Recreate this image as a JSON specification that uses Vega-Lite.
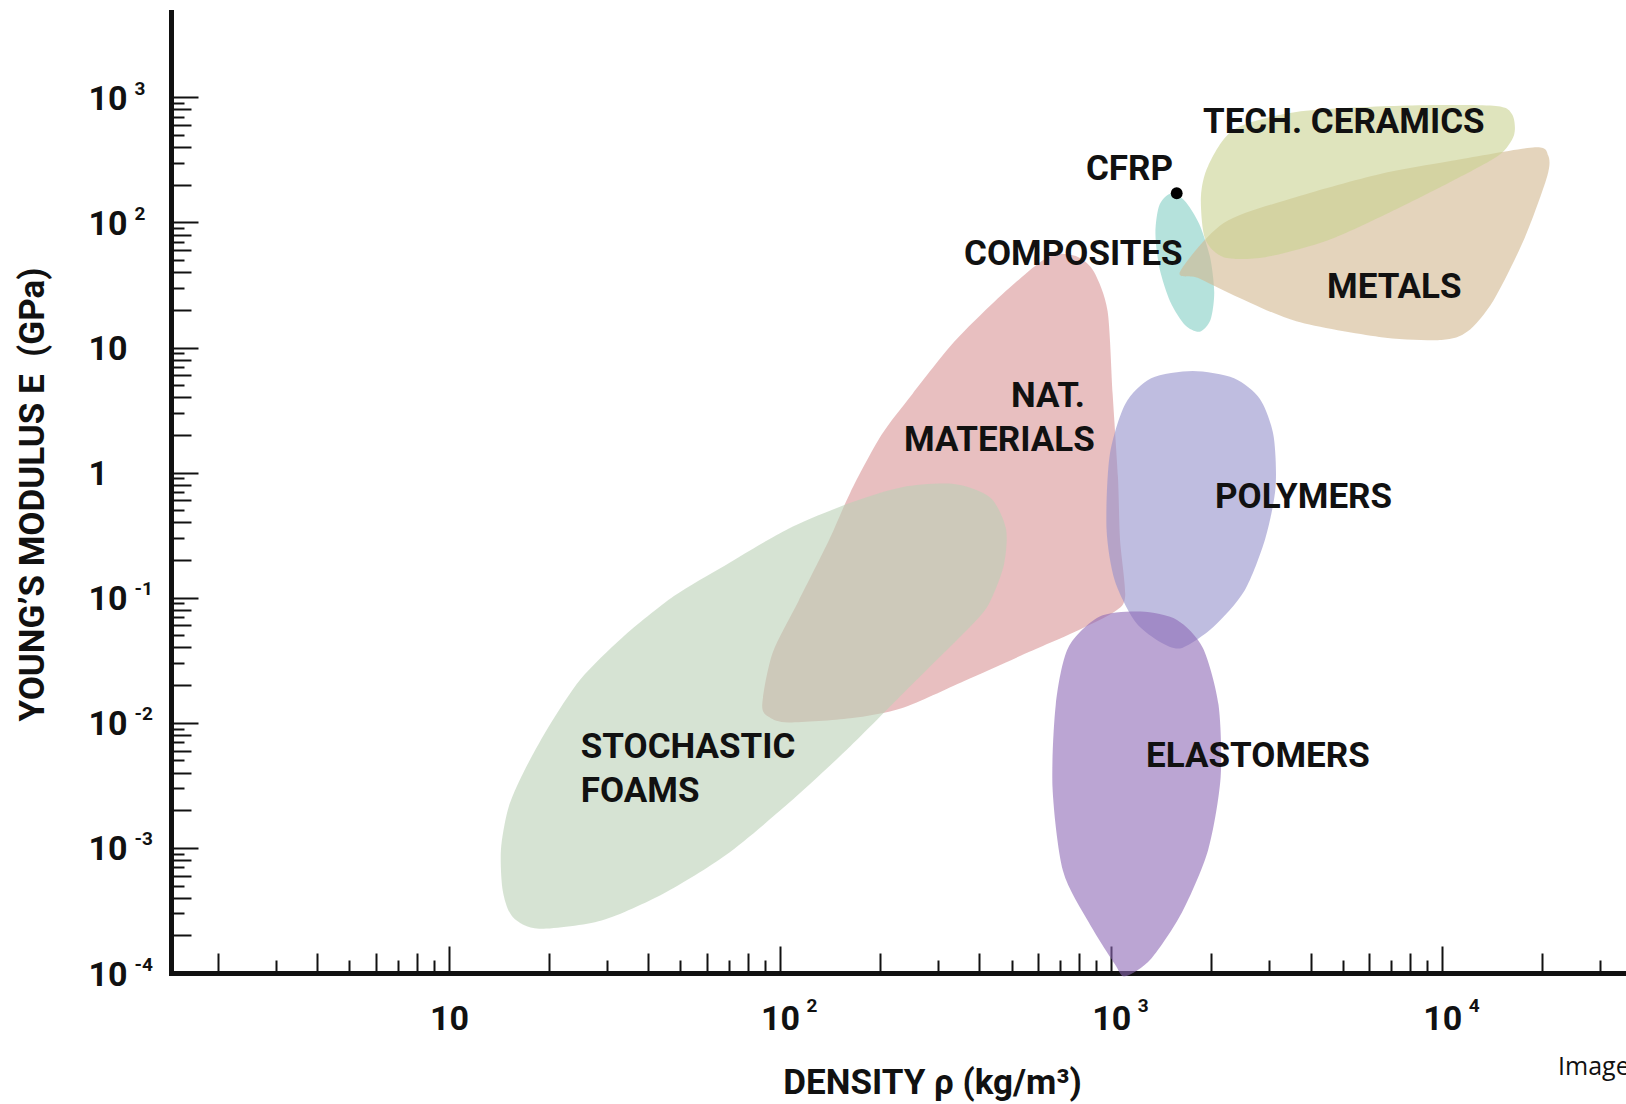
{
  "$schema": "https://vega.github.io/schema/vega-lite/v6.json",
  "width": 1455,
  "height": 961,
  "autosize": {"type": "none"},
  "padding": {"left": 171, "top": 12, "right": 0, "bottom": 131},
  "background": "white",
  "config": {
    "view": {"stroke": null},
    "axis": {
      "grid": false,
      "labelFont": "Roboto",
      "titleFont": "Roboto",
      "labelFontWeight": "bold",
      "titleFontWeight": "bold",
      "labelColor": "#111",
      "titleColor": "#111",
      "domainColor": "#111",
      "tickColor": "#111",
      "labelFlush": false,
      "labelOverlap": false,
      "labelBound": false,
      "zindex": 1
    }
  },
  "datasets": {
    "regions": [
      {"family": "Natural materials", "i": 1, "density": 689, "modulus": 55.9},
      {"family": "Natural materials", "i": 2, "density": 796, "modulus": 52.8},
      {"family": "Natural materials", "i": 3, "density": 887, "modulus": 40.4},
      {"family": "Natural materials", "i": 4, "density": 975, "modulus": 19.6},
      {"family": "Natural materials", "i": 5, "density": 1010, "modulus": 4.26},
      {"family": "Natural materials", "i": 6, "density": 1048, "modulus": 0.925},
      {"family": "Natural materials", "i": 7, "density": 1063, "modulus": 0.2945},
      {"family": "Natural materials", "i": 8, "density": 1102, "modulus": 0.1032},
      {"family": "Natural materials", "i": 9, "density": 1025, "modulus": 0.0775},
      {"family": "Natural materials", "i": 10, "density": 796, "modulus": 0.055},
      {"family": "Natural materials", "i": 11, "density": 555, "modulus": 0.0361},
      {"family": "Natural materials", "i": 12, "density": 360, "modulus": 0.0216},
      {"family": "Natural materials", "i": 13, "density": 234, "modulus": 0.01315},
      {"family": "Natural materials", "i": 14, "density": 163, "modulus": 0.01086},
      {"family": "Natural materials", "i": 15, "density": 106, "modulus": 0.01006},
      {"family": "Natural materials", "i": 16, "density": 92.9, "modulus": 0.01107},
      {"family": "Natural materials", "i": 17, "density": 88.3, "modulus": 0.01392},
      {"family": "Natural materials", "i": 18, "density": 94.9, "modulus": 0.0361},
      {"family": "Natural materials", "i": 19, "density": 113.6, "modulus": 0.0938},
      {"family": "Natural materials", "i": 20, "density": 141, "modulus": 0.2945},
      {"family": "Natural materials", "i": 21, "density": 163, "modulus": 0.695},
      {"family": "Natural materials", "i": 22, "density": 202, "modulus": 1.985},
      {"family": "Natural materials", "i": 23, "density": 251, "modulus": 4.26},
      {"family": "Natural materials", "i": 24, "density": 335, "modulus": 11.05},
      {"family": "Natural materials", "i": 25, "density": 447, "modulus": 23.7},
      {"family": "Natural materials", "i": 26, "density": 597, "modulus": 46.2},

      {"family": "Stochastic foams", "i": 1, "density": 233.7, "modulus": 0.765},
      {"family": "Stochastic foams", "i": 2, "density": 335, "modulus": 0.81},
      {"family": "Stochastic foams", "i": 3, "density": 431, "modulus": 0.632},
      {"family": "Stochastic foams", "i": 4, "density": 481, "modulus": 0.356},
      {"family": "Stochastic foams", "i": 5, "density": 474, "modulus": 0.183},
      {"family": "Stochastic foams", "i": 6, "density": 431, "modulus": 0.0938},
      {"family": "Stochastic foams", "i": 7, "density": 387, "modulus": 0.064},
      {"family": "Stochastic foams", "i": 8, "density": 251, "modulus": 0.0204},
      {"family": "Stochastic foams", "i": 9, "density": 163, "modulus": 0.00649},
      {"family": "Stochastic foams", "i": 10, "density": 106, "modulus": 0.00227},
      {"family": "Stochastic foams", "i": 11, "density": 68.6, "modulus": 0.000876},
      {"family": "Stochastic foams", "i": 12, "density": 44.5, "modulus": 0.000432},
      {"family": "Stochastic foams", "i": 13, "density": 28.9, "modulus": 0.000263},
      {"family": "Stochastic foams", "i": 14, "density": 18.7, "modulus": 0.000226},
      {"family": "Stochastic foams", "i": 15, "density": 15.6, "modulus": 0.000279},
      {"family": "Stochastic foams", "i": 16, "density": 14.55, "modulus": 0.000449},
      {"family": "Stochastic foams", "i": 17, "density": 14.35, "modulus": 0.000963},
      {"family": "Stochastic foams", "i": 18, "density": 15.1, "modulus": 0.00207},
      {"family": "Stochastic foams", "i": 19, "density": 16.8, "modulus": 0.00403},
      {"family": "Stochastic foams", "i": 20, "density": 20.1, "modulus": 0.0095},
      {"family": "Stochastic foams", "i": 21, "density": 25.0, "modulus": 0.0224},
      {"family": "Stochastic foams", "i": 22, "density": 33.4, "modulus": 0.0481},
      {"family": "Stochastic foams", "i": 23, "density": 47.8, "modulus": 0.103},
      {"family": "Stochastic foams", "i": 24, "density": 68.6, "modulus": 0.183},
      {"family": "Stochastic foams", "i": 25, "density": 106, "modulus": 0.356},
      {"family": "Stochastic foams", "i": 26, "density": 163, "modulus": 0.574},

      {"family": "Polymers", "i": 1, "density": 1761, "modulus": 6.48},
      {"family": "Polymers", "i": 2, "density": 2350, "modulus": 5.67},
      {"family": "Polymers", "i": 3, "density": 2813, "modulus": 3.87},
      {"family": "Polymers", "i": 4, "density": 3090, "modulus": 1.985},
      {"family": "Polymers", "i": 5, "density": 3136, "modulus": 0.765},
      {"family": "Polymers", "i": 6, "density": 2917, "modulus": 0.2945},
      {"family": "Polymers", "i": 7, "density": 2526, "modulus": 0.1135},
      {"family": "Polymers", "i": 8, "density": 2034, "modulus": 0.0582},
      {"family": "Polymers", "i": 9, "density": 1638, "modulus": 0.0397},
      {"family": "Polymers", "i": 10, "density": 1418, "modulus": 0.0437},
      {"family": "Polymers", "i": 11, "density": 1184, "modulus": 0.064},
      {"family": "Polymers", "i": 12, "density": 1025, "modulus": 0.1373},
      {"family": "Polymers", "i": 13, "density": 968, "modulus": 0.356},
      {"family": "Polymers", "i": 14, "density": 989, "modulus": 1.355},
      {"family": "Polymers", "i": 15, "density": 1102, "modulus": 3.52},
      {"family": "Polymers", "i": 16, "density": 1320, "modulus": 5.67},

      {"family": "Elastomers", "i": 1, "density": 1228, "modulus": 0.0775},
      {"family": "Elastomers", "i": 2, "density": 1580, "modulus": 0.0665},
      {"family": "Elastomers", "i": 3, "density": 1892, "modulus": 0.0397},
      {"family": "Elastomers", "i": 4, "density": 2109, "modulus": 0.01392},
      {"family": "Elastomers", "i": 5, "density": 2140, "modulus": 0.00366},
      {"family": "Elastomers", "i": 6, "density": 1962, "modulus": 0.000963},
      {"family": "Elastomers", "i": 7, "density": 1638, "modulus": 0.000307},
      {"family": "Elastomers", "i": 8, "density": 1320, "modulus": 0.00013},
      {"family": "Elastomers", "i": 9, "density": 1102, "modulus": 0.000094},
      {"family": "Elastomers", "i": 10, "density": 1025, "modulus": 0.000118},
      {"family": "Elastomers", "i": 11, "density": 856, "modulus": 0.000253},
      {"family": "Elastomers", "i": 12, "density": 715, "modulus": 0.000658},
      {"family": "Elastomers", "i": 13, "density": 665, "modulus": 0.003027},
      {"family": "Elastomers", "i": 14, "density": 680, "modulus": 0.01392},
      {"family": "Elastomers", "i": 15, "density": 741, "modulus": 0.0397},
      {"family": "Elastomers", "i": 16, "density": 920, "modulus": 0.0705},

      {"family": "Composites", "i": 1, "density": 1851, "modulus": 13.37},
      {"family": "Composites", "i": 2, "density": 1995, "modulus": 16.69},
      {"family": "Composites", "i": 3, "density": 2047, "modulus": 27.5},
      {"family": "Composites", "i": 4, "density": 1989, "modulus": 52.6},
      {"family": "Composites", "i": 5, "density": 1843, "modulus": 97.8},
      {"family": "Composites", "i": 6, "density": 1663, "modulus": 149.9},
      {"family": "Composites", "i": 7, "density": 1502, "modulus": 169.1},
      {"family": "Composites", "i": 8, "density": 1395, "modulus": 135.5},
      {"family": "Composites", "i": 9, "density": 1360, "modulus": 82.1},
      {"family": "Composites", "i": 10, "density": 1399, "modulus": 43.0},
      {"family": "Composites", "i": 11, "density": 1509, "modulus": 23.1},
      {"family": "Composites", "i": 12, "density": 1673, "modulus": 15.05},

      {"family": "Metals", "i": 1, "density": 1614, "modulus": 40.4},
      {"family": "Metals", "i": 2, "density": 2186, "modulus": 99.1},
      {"family": "Metals", "i": 3, "density": 3622, "modulus": 159.7},
      {"family": "Metals", "i": 4, "density": 6449, "modulus": 243},
      {"family": "Metals", "i": 5, "density": 10683, "modulus": 311},
      {"family": "Metals", "i": 6, "density": 19028, "modulus": 399},
      {"family": "Metals", "i": 7, "density": 20886, "modulus": 342},
      {"family": "Metals", "i": 8, "density": 20737, "modulus": 234},
      {"family": "Metals", "i": 9, "density": 17701, "modulus": 74.4},
      {"family": "Metals", "i": 10, "density": 14256, "modulus": 23.7},
      {"family": "Metals", "i": 11, "density": 11905, "modulus": 13.4},
      {"family": "Metals", "i": 12, "density": 9940, "modulus": 11.48},
      {"family": "Metals", "i": 13, "density": 6449, "modulus": 12.16},
      {"family": "Metals", "i": 14, "density": 3622, "modulus": 16.2},
      {"family": "Metals", "i": 15, "density": 2350, "modulus": 26.1},
      {"family": "Metals", "i": 16, "density": 1825, "modulus": 36.1},

      {"family": "Technical ceramics", "i": 1, "density": 1962, "modulus": 283},
      {"family": "Technical ceramics", "i": 2, "density": 2350, "modulus": 552},
      {"family": "Technical ceramics", "i": 3, "density": 3622, "modulus": 763},
      {"family": "Technical ceramics", "i": 4, "density": 7450, "modulus": 855},
      {"family": "Technical ceramics", "i": 5, "density": 14256, "modulus": 855},
      {"family": "Technical ceramics", "i": 6, "density": 16234, "modulus": 734},
      {"family": "Technical ceramics", "i": 7, "density": 16467, "modulus": 501},
      {"family": "Technical ceramics", "i": 8, "density": 14773, "modulus": 342},
      {"family": "Technical ceramics", "i": 9, "density": 10683, "modulus": 213},
      {"family": "Technical ceramics", "i": 10, "density": 6931, "modulus": 120},
      {"family": "Technical ceramics", "i": 11, "density": 4498, "modulus": 71.7},
      {"family": "Technical ceramics", "i": 12, "density": 2917, "modulus": 52.8},
      {"family": "Technical ceramics", "i": 13, "density": 2186, "modulus": 52.8},
      {"family": "Technical ceramics", "i": 14, "density": 1920, "modulus": 74.4},
      {"family": "Technical ceramics", "i": 15, "density": 1866, "modulus": 159.7}
    ],
    "labels": [
      {"label": "TECH. CERAMICS", "density": 1893, "modulus": 635},
      {"label": "CFRP", "density": 839, "modulus": 267.5},
      {"label": "COMPOSITES", "density": 359.5, "modulus": 56.0},
      {"label": "METALS", "density": 4485, "modulus": 30.5},
      {"label": "NAT.", "density": 498, "modulus": 4.11},
      {"label": "MATERIALS", "density": 236.7, "modulus": 1.83},
      {"label": "POLYMERS", "density": 2058, "modulus": 0.641},
      {"label": "STOCHASTIC", "density": 25.0, "modulus": 0.00645},
      {"label": "FOAMS", "density": 25.0, "modulus": 0.00287},
      {"label": "ELASTOMERS", "density": 1274, "modulus": 0.00546}
    ],
    "cfrp": [
      {"material": "CFRP", "density": 1577, "modulus": 171}
    ],
    "credit": [
      {"text": "Image credit", "density": 22360, "modulus": 0.00001517}
    ]
  },
  "layer": [
    {
      "data": {"name": "regions"},
      "mark": {"type": "line", "interpolate": "cardinal-closed", "tension": 0.2, "fillOpacity": 0.6, "strokeWidth": 0},
      "encoding": {
        "x": {
          "field": "density", "type": "quantitative",
          "scale": {"type": "log", "domain": [1.447, 35870], "nice": false},
          "axis": {
            "orient": "bottom",
            "values": [10, 100, 1000, 10000],
            "labelExpr": "'10'",
            "ticks": false,
            "domain": true,
            "domainWidth": 5,
            "domainCap": "square",
            "labelFontSize": 34,
            "labelAlign": "center",
            "labelBaseline": "alphabetic",
            "labelPadding": 56,
            "title": "DENSITY ρ (kg/m³)",
            "titleFontSize": 35,
            "titleX": 761,
            "titleY": 120,
            "titleAlign": "center",
            "titleBaseline": "alphabetic"
          }
        },
        "y": {
          "field": "modulus", "type": "quantitative",
          "scale": {"type": "log", "domain": [0.0001, 4810], "nice": false},
          "axis": {
            "orient": "left",
            "values": [0.0001, 0.001, 0.01, 0.1, 1, 10, 100, 1000],
            "labelExpr": "datum.value == 1 ? '1' : '10'",
            "ticks": false,
            "domain": true,
            "domainWidth": 5,
            "domainCap": "square",
            "labelFontSize": 34,
            "labelAlign": "left",
            "labelBaseline": "alphabetic",
            "labelPadding": 83,
            "labelOffset": 12,
            "title": "YOUNG’S MODULUS E\u00a0 (GPa)",
            "titleFontSize": 35,
            "titleAngle": -90,
            "titleX": -128,
            "titleY": 482,
            "titleAlign": "center",
            "titleBaseline": "alphabetic"
          }
        },
        "fill": {
          "field": "family", "type": "nominal",
          "scale": {
            "domain": ["Stochastic foams", "Natural materials", "Polymers", "Elastomers", "Composites", "Metals", "Technical ceramics"],
            "range": ["#bbd0b6", "#d99496", "#9491cb", "#8e69b6", "#84cfc5", "#d2b78f", "#cad291"]
          },
          "legend": null
        },
        "order": {"field": "i", "type": "quantitative"}
      }
    },
    {
      "data": {"name": "labels"},
      "mark": {"type": "text", "font": "Roboto", "fontWeight": "bold", "fontSize": 35, "align": "left", "baseline": "middle", "color": "#111"},
      "encoding": {
        "x": {
          "field": "density", "type": "quantitative",
          "scale": {"type": "log", "domain": [1.447, 35870], "nice": false},
          "axis": {
            "orient": "top",
            "offset": -961,
            "values": [2, 3, 4, 5, 6, 7, 8, 9, 10, 20, 30, 40, 50, 60, 70, 80, 90, 100, 200, 300, 400, 500, 600, 700, 800, 900, 1000, 2000, 3000, 4000, 5000, 6000, 7000, 8000, 9000, 10000, 20000, 30000],
            "labels": false,
            "domain": false,
            "ticks": true,
            "tickWidth": 2,
            "tickSize": {
              "condition": [
                {"test": "round(datum.value / pow(10, floor(log(datum.value) / LN10 + 0.000001))) == 1", "value": 27},
                {"test": "round(datum.value / pow(10, floor(log(datum.value) / LN10 + 0.000001))) % 2 == 0", "value": 20}
              ],
              "value": 13
            },
            "title": null
          }
        },
        "y": {
          "field": "modulus", "type": "quantitative",
          "scale": {"type": "log", "domain": [0.0001, 4810], "nice": false},
          "axis": {
            "orient": "right",
            "offset": -1455,
            "values": [0.0002, 0.0003, 0.0004, 0.0005, 0.0006, 0.0007, 0.0008, 0.0009, 0.001, 0.002, 0.003, 0.004, 0.005, 0.006, 0.007, 0.008, 0.009, 0.01, 0.02, 0.03, 0.04, 0.05, 0.06, 0.07, 0.08, 0.09, 0.1, 0.2, 0.3, 0.4, 0.5, 0.6, 0.7, 0.8, 0.9, 1, 2, 3, 4, 5, 6, 7, 8, 9, 10, 20, 30, 40, 50, 60, 70, 80, 90, 100, 200, 300, 400, 500, 600, 700, 800, 900, 1000],
            "labels": false,
            "domain": false,
            "ticks": true,
            "tickWidth": 2,
            "tickSize": {
              "condition": [
                {"test": "round(datum.value / pow(10, floor(log(datum.value) / LN10 + 0.000001))) == 1", "value": 27},
                {"test": "round(datum.value / pow(10, floor(log(datum.value) / LN10 + 0.000001))) % 2 == 0", "value": 20}
              ],
              "value": 13
            },
            "title": null
          }
        },
        "text": {"field": "label", "type": "nominal"}
      }
    },
    {
      "data": {"name": "cfrp"},
      "mark": {"type": "point", "filled": true, "color": "#000", "size": 140, "opacity": 1},
      "encoding": {
        "x": {
          "field": "density", "type": "quantitative",
          "scale": {"type": "log", "domain": [1.447, 35870], "nice": false},
          "axis": {
            "orient": "bottom",
            "values": [100, 1000, 10000],
            "labelExpr": "'' + round(log(datum.value) / LN10)",
            "ticks": false,
            "domain": false,
            "labelFontSize": 19,
            "labelAlign": "left",
            "labelBaseline": "alphabetic",
            "labelPadding": 38,
            "labelOffset": 26,
            "title": null
          }
        },
        "y": {
          "field": "modulus", "type": "quantitative",
          "scale": {"type": "log", "domain": [0.0001, 4810], "nice": false},
          "axis": {
            "orient": "left",
            "values": [0.0001, 0.001, 0.01, 0.1, 100, 1000],
            "labelExpr": "'' + round(log(datum.value) / LN10)",
            "ticks": false,
            "domain": false,
            "labelFontSize": 19,
            "labelAlign": "left",
            "labelBaseline": "alphabetic",
            "labelPadding": 37,
            "labelOffset": -3,
            "title": null
          }
        }
      }
    },
    {
      "data": {"name": "credit"},
      "mark": {"type": "text", "font": "Open Sans", "fontSize": 25, "align": "left", "baseline": "alphabetic", "color": "#111"},
      "encoding": {
        "x": {"field": "density", "type": "quantitative", "scale": {"type": "log", "domain": [1.447, 35870], "nice": false}, "axis": null},
        "y": {"field": "modulus", "type": "quantitative", "scale": {"type": "log", "domain": [0.0001, 4810], "nice": false}, "axis": null},
        "text": {"field": "text", "type": "nominal"}
      }
    }
  ],
  "resolve": {"axis": {"x": "independent", "y": "independent"}}
}
